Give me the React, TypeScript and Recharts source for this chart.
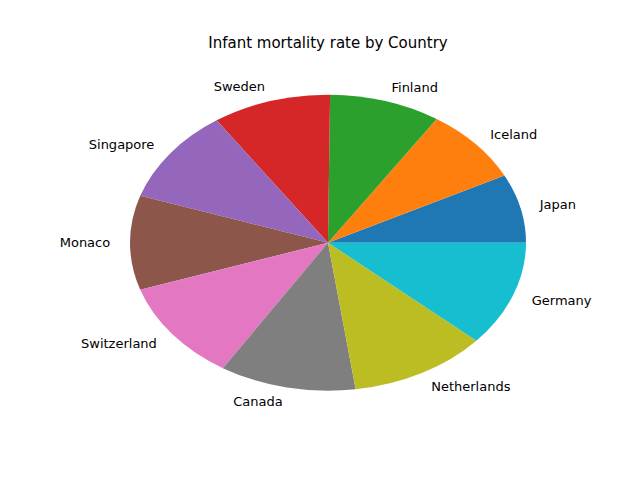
import React from "react";
import { PieChart, Pie, Cell } from "recharts";

const countries = ["Japan", "Iceland", "Finland", "Sweden", "Singapore", "Monaco", "Switzerland", "Canada", "Netherlands", "Germany"];
const rates = [2.0, 2.2, 2.42, 2.58, 2.76, 2.74, 2.92, 2.97, 3.0, 3.07];
const colors = ["#1f77b4", "#ff7f0e", "#2ca02c", "#d62728", "#9467bd", "#8c564b", "#e377c2", "#7f7f7f", "#bcbd22", "#17becf"];

const RX = 198;
const RY = 148;
const S = RY / RX;
const CX = 323;
const CY = 239;

const data = countries.map((name, i) => ({ name, value: rates[i] }));

const RADIAN = Math.PI / 180;

function renderLabel(props: any) {
  const { cx, cy, midAngle, outerRadius, name } = props;
  const x = cx + 1.1 * outerRadius * Math.cos(midAngle * RADIAN);
  const y = cy - 1.1 * outerRadius * Math.sin(midAngle * RADIAN);
  return (
    <text
      x={0}
      y={0}
      transform={`translate(${x} ${y}) scale(1 ${1 / S})`}
      textAnchor={x > cx ? "start" : "end"}
      dominantBaseline="central"
      fontSize={13}
      fill="#000"
      fontFamily="DejaVu Sans"
    >
      {name}
    </text>
  );
}

export default function App() {
  return (
    <div style={{ position: "relative", width: 640, height: 480, margin: -8, background: "#fff", overflow: "hidden" }}>
      <div
        style={{
          position: "absolute",
          top: 34,
          left: 0,
          width: 656,
          textAlign: "center",
          fontFamily: "DejaVu Sans",
          fontSize: 15,
        }}
      >
        Infant mortality rate by Country
      </div>
      <div style={{ position: "absolute", top: 0, left: 0, transform: `scaleY(${S})`, transformOrigin: `0 ${CY}px` }}>
        <PieChart width={640} height={480}>
          <Pie
            data={data}
            dataKey="value"
            nameKey="name"
            cx={CX}
            cy={CY}
            outerRadius={RX}
            startAngle={0}
            endAngle={360}
            stroke="none"
            label={renderLabel}
            labelLine={false}
            isAnimationActive={false}
          >
            {data.map((d, i) => (
              <Cell key={d.name} fill={colors[i]} />
            ))}
          </Pie>
        </PieChart>
      </div>
    </div>
  );
}
